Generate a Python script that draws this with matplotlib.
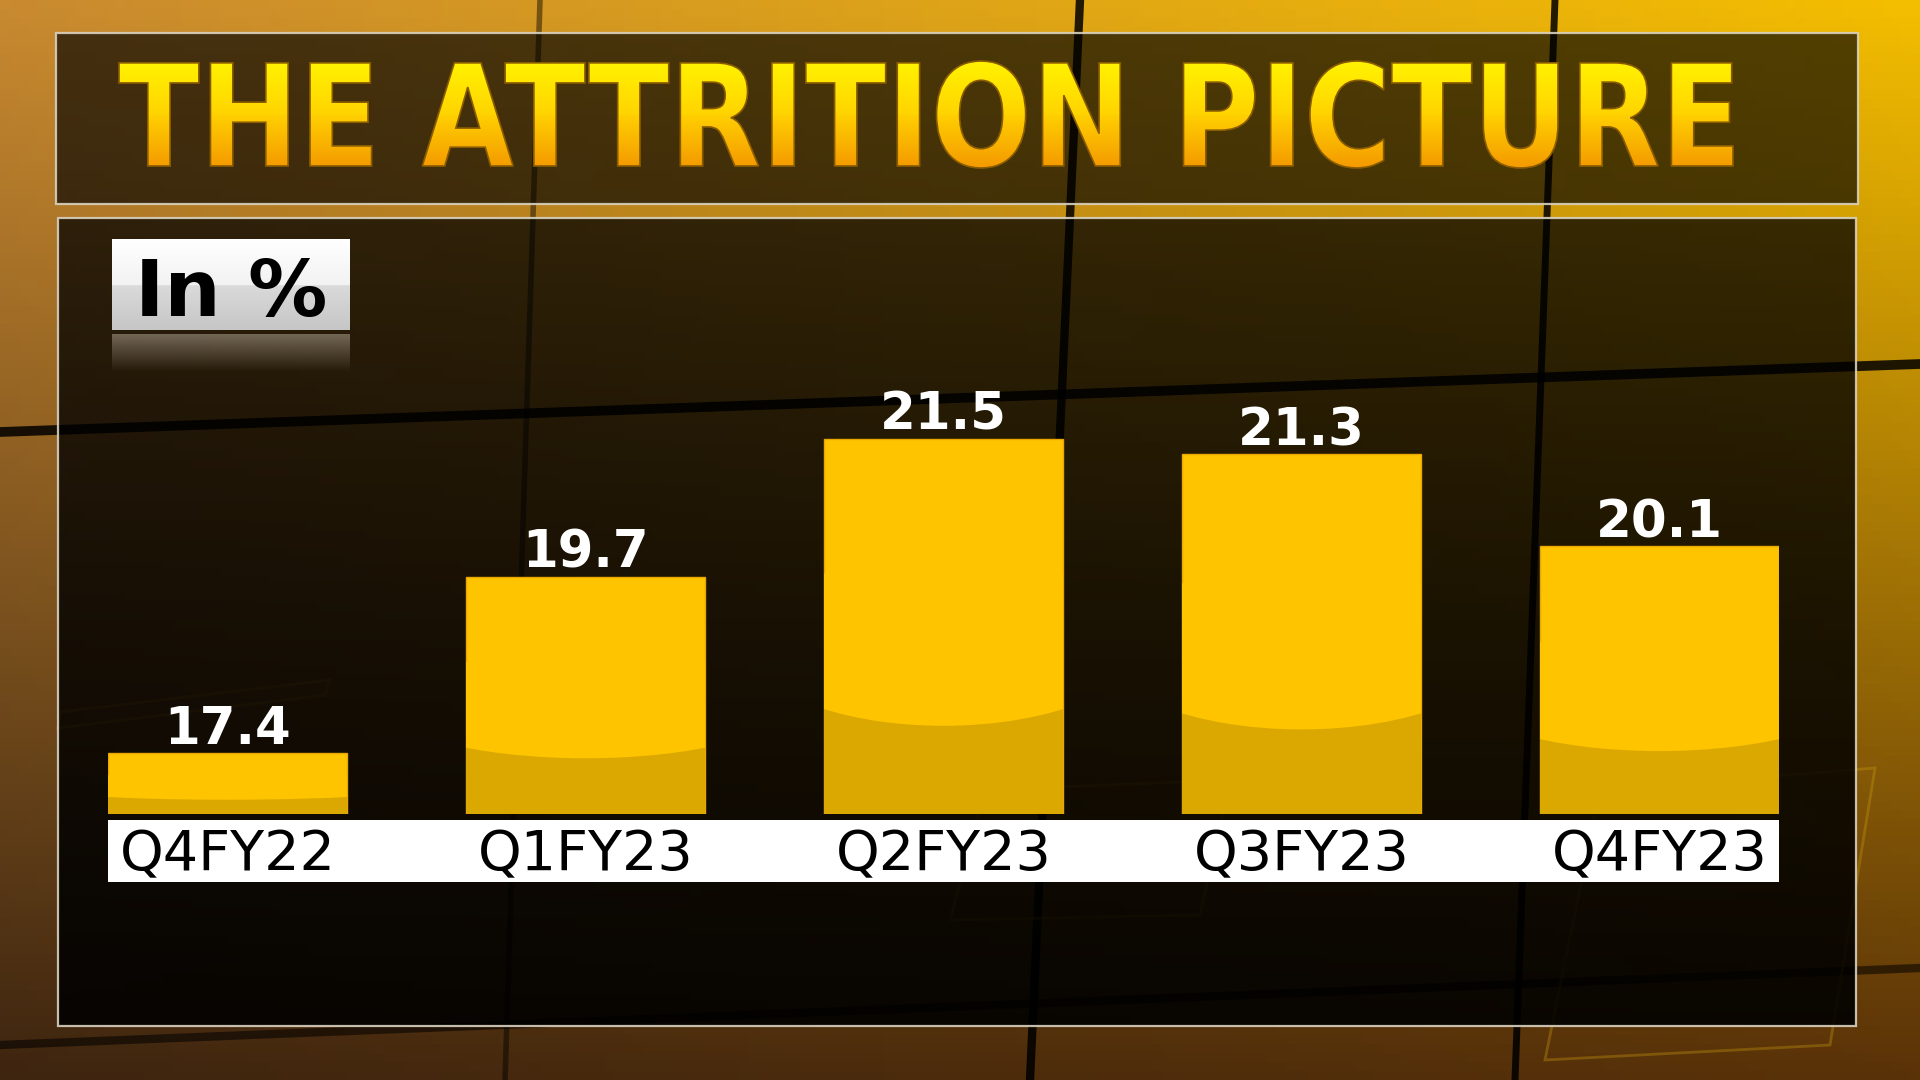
import matplotlib.pyplot as plt
import numpy as np
from matplotlib.patches import Rectangle, Ellipse, PathPatch, Polygon
from matplotlib.textpath import TextPath
from matplotlib.font_manager import FontProperties
from matplotlib.transforms import Affine2D
from matplotlib.colors import to_rgb

# Data
quarters = ['Q4FY22', 'Q1FY23', 'Q2FY23', 'Q3FY23', 'Q4FY23']
attrition = [17.4, 19.7, 21.5, 21.3, 20.1]
title = 'THE ATTRITION PICTURE'
unit_label = 'In %'

W, H = 1920, 1080
fig = plt.figure(figsize=(19.2, 10.8), dpi=100)

# full-figure background axes, pixel coords with y going down
bg = fig.add_axes([0, 0, 1, 1])
bg.axis('off')


def vgrad(top, bottom, n=256):
    t = np.linspace(0, 1, n)[:, None]
    return (1 - t) * np.array(to_rgb(top)) + t * np.array(to_rgb(bottom))


# studio-style orange background (bilinear blend of corner colours)
tl, tr = np.array(to_rgb('#c98a30')), np.array(to_rgb('#f4be00'))
bl, br = np.array(to_rgb('#3e2510')), np.array(to_rgb('#5a3208'))
u = np.linspace(0, 1, 200)[None, :, None]
v = np.linspace(0, 1, 120)[:, None, None]
back = (1 - v) * ((1 - u) * tl + u * tr) + v * ((1 - u) * bl + u * br)
bg.imshow(back, extent=[0, W, H, 0], aspect='auto', zorder=0)

# dark set lines behind the panels
for (x0, y0, x1, y1, lw, a) in [(1080, 0, 1030, 1080, 6, 0.85), (1555, 0, 1515, 1080, 5, 0.85),
                                (540, 0, 505, 1080, 4, 0.45), (0, 432, 1920, 364, 7, 0.85),
                                (0, 1045, 1920, 968, 6, 0.55)]:
    bg.plot([x0, x1], [y0, y1], color='black', lw=lw, alpha=a, zorder=1)
# faint yellow outline decorations
for pts in [[(60, 712), (330, 680), (325, 695), (58, 728)],
            [(1545, 1060), (1600, 790), (1875, 768), (1830, 1045)],
            [(950, 920), (985, 790), (1230, 780), (1200, 915)]]:
    bg.add_patch(Polygon(pts, closed=True, fill=False, edgecolor='#c89a10', lw=2, alpha=0.35, zorder=1))

# title panel
bg.add_patch(Rectangle((56, 33), 1802, 171, facecolor=(0, 0, 0, 0.66),
                       edgecolor=(0.85, 0.82, 0.75, 0.9), lw=1.6, zorder=2))
# chart panel with vertical darkening
shade = np.zeros((256, 1, 4))
shade[:, 0, 3] = np.linspace(0.74, 0.9, 256)
bg.imshow(shade, extent=[58, 1856, 1026, 218], aspect='auto', zorder=2)
bg.add_patch(Rectangle((58, 218), 1798, 808, facecolor='none',
                       edgecolor=(0.85, 0.82, 0.75, 0.9), lw=1.6, zorder=3))

# gradient title text
fp = FontProperties(family='DejaVu Sans', weight='bold')
tp = TextPath((0, 0), title, prop=fp, size=100)
bb = tp.get_extents()
tx0, tx1, ttop, tbot = 119, 1733, 61, 168
tr_ = Affine2D().translate(-bb.x0, -bb.y0).scale((tx1 - tx0) / bb.width,
                                                 -(tbot - ttop) / bb.height).translate(tx0, tbot)
tpath = tr_.transform_path(tp)
clip = PathPatch(tpath, facecolor='none', edgecolor='none', zorder=4)
bg.add_patch(clip)
tgrad = np.concatenate([vgrad('#fff600', '#ffd400', 128), vgrad('#ffd000', '#f39400', 128)])[:, None, :]
im = bg.imshow(tgrad, extent=[tx0 - 5, tx1 + 5, tbot + 5, ttop - 5], aspect='auto', zorder=4)
im.set_clip_path(clip)
bg.add_patch(PathPatch(tpath, facecolor='none', edgecolor='#8a5c00', lw=1.2, zorder=5))

# "In %" glossy label box with reflection
box = np.concatenate([vgrad('#ffffff', '#f2f2f2', 130), vgrad('#dadada', '#c6c6c6', 126)])[:, None, :]
bg.imshow(box, extent=[112, 350, 330, 239], aspect='auto', zorder=4)
refl = np.zeros((128, 1, 4))
refl[:, 0, :3] = to_rgb('#8c8070')
refl[:, 0, 3] = np.linspace(0.75, 0.0, 128)
bg.imshow(refl, extent=[112, 350, 372, 334], aspect='auto', zorder=4)
bg.text(231, 316, unit_label, ha='center', va='baseline', fontsize=57,
        fontweight='bold', color='black', family='DejaVu Sans', zorder=5)

# white category band
bg.add_patch(Rectangle((108, 820), 1671, 62, facecolor='white', edgecolor='none', zorder=4))

bg.set_xlim(0, W)
bg.set_ylim(H, 0)

# chart axes: bars drawn in data units
base = 16.61
ax = fig.add_axes([108 / W, (H - 814) / H, 1671 / W, (814 - 240) / H])
ax.set_xlim(-0.334, 4.334)
ax.set_ylim(base, 24.09)
ax.axis('off')
ax.patch.set_alpha(0)

x = np.arange(len(quarters))
bw = 0.668
bars = ax.bar(x, [a - base for a in attrition], bottom=base, width=bw,
              color='#ffc400', edgecolor='#e8a800', lw=1.0, zorder=2)
for xi, val, bar in zip(x, attrition, bars):
    h = val - base
    dark = Rectangle((xi - bw / 2, base), bw, 0.28 * h, facecolor='#daa800',
                     edgecolor='none', zorder=3)
    ax.add_patch(dark)
    dark.set_clip_path(bar)
    glow = Ellipse((xi, base + 0.46 * h), 1.117, 0.45 * h, facecolor='#ffc400',
                   edgecolor='none', zorder=3)
    ax.add_patch(glow)
    glow.set_clip_path(bar)
    ax.annotate(f'{val:.1f}', xy=(xi, val), xytext=(0, 9), textcoords='offset pixels',
                ha='center', va='baseline', fontsize=37, fontweight='bold',
                color='white', family='DejaVu Sans', zorder=5, annotation_clip=False)

for xi, q in zip(x, quarters):
    ax.annotate(q, xy=(xi, base), xytext=(0, -56), textcoords='offset pixels',
                ha='center', va='baseline', fontsize=40, color='black',
                family='DejaVu Sans', zorder=6, annotation_clip=False)

fig.savefig('out.png', dpi=100)
